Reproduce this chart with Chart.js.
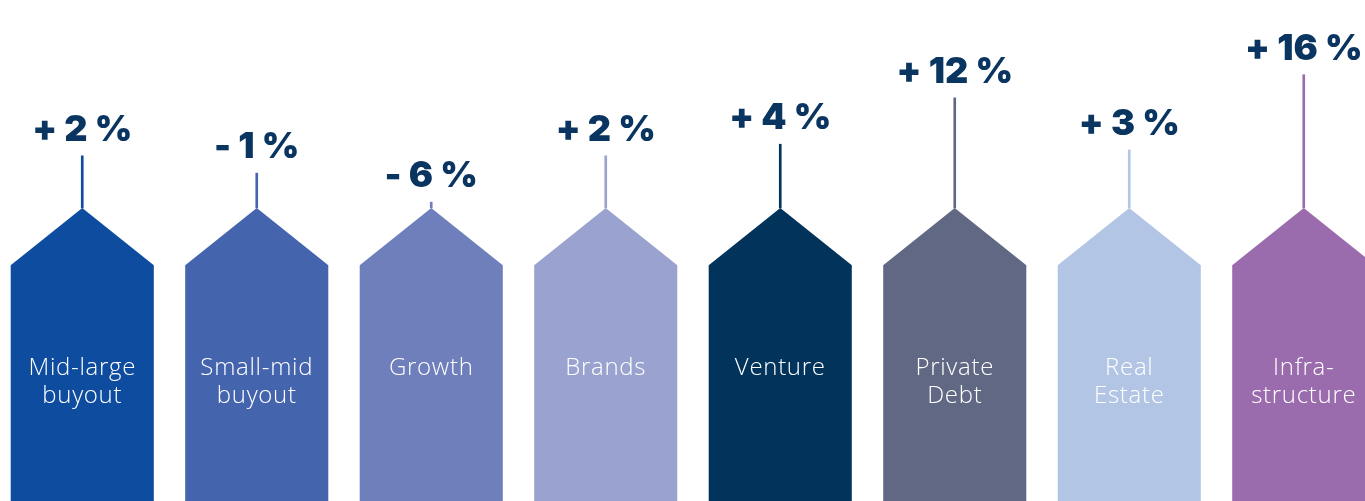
<!DOCTYPE html>
<html lang="en">
<head>
    <meta charset="UTF-8">
    <title>Change by strategy</title>
    <style>
        html, body {
            margin: 0;
            padding: 0;
            background: #ffffff;
            overflow: hidden;
        }
        #wrap {
            position: absolute;
            left: -5px;
            top: 0;
            width: 1396px;
            height: 501px;
        }
    </style>
    <script src="https://cdn.jsdelivr.net/npm/chart.js"></script>
</head>
<body>
    <div id="wrap"><canvas id="chart"></canvas></div>

    <script>
        // data
        const categories = [
            ['Mid-large', 'buyout'],
            ['Small-mid', 'buyout'],
            ['Growth'],
            ['Brands'],
            ['Venture'],
            ['Private', 'Debt'],
            ['Real', 'Estate'],
            ['Infra-', 'structure']
        ];
        const changes = [2, -1, -6, 2, 4, 12, 3, 16];
        const colors = ['#0e4c9f', '#4464ae', '#6f7fbc', '#9aa3cf', '#02335b', '#606883', '#b3c5e5', '#9a6cad'];

        // scale settings: roof peaks sit at stemBase, stems rise to the value
        const stemBase = -7;
        const axisMin = -57.6;
        const axisMax = 28.9;

        function formatChange(v) {
            return (v >= 0 ? '+ ' : '- ') + Math.abs(v) + ' %';
        }

        const housePlugin = {
            id: 'houses',
            beforeDatasetsDraw(chart) {
                const ctx = chart.ctx;
                ctx.save();
                chart.getDatasetMeta(0).data.forEach((bar, i) => {
                    const top = Math.min(bar.y, bar.base);
                    const bottom = Math.max(bar.y, bar.base);
                    const half = bar.width / 2;
                    const roof = half * 0.8;
                    ctx.fillStyle = colors[i];
                    ctx.beginPath();
                    ctx.moveTo(bar.x - half, bottom);
                    ctx.lineTo(bar.x - half, top + roof);
                    ctx.lineTo(bar.x, top);
                    ctx.lineTo(bar.x + half, top + roof);
                    ctx.lineTo(bar.x + half, bottom);
                    ctx.closePath();
                    ctx.fill();

                    // category name inside the house
                    ctx.fillStyle = '#ffffff';
                    ctx.font = '300 24px "Open Sans"';
                    ctx.letterSpacing = '0.7px';
                    ctx.textAlign = 'center';
                    ctx.textBaseline = 'alphabetic';
                    categories[i].forEach((line, k) => {
                        ctx.fillText(line, bar.x, top + 167 + k * 28);
                    });
                });
                ctx.restore();
            },
            afterDatasetsDraw(chart) {
                const ctx = chart.ctx;
                ctx.save();
                ctx.fillStyle = '#0b3561';
                ctx.font = '900 36px Inter';
                ctx.textAlign = 'center';
                ctx.textBaseline = 'alphabetic';
                chart.getDatasetMeta(1).data.forEach((stem, i) => {
                    const top = Math.min(stem.y, stem.base);
                    ctx.fillText(formatChange(changes[i]), stem.x, top - 15);
                });
                ctx.restore();
            }
        };

        new Chart(document.getElementById('chart'), {
            type: 'bar',
            data: {
                labels: categories,
                datasets: [
                    {
                        label: 'House',
                        data: categories.map(() => [axisMin, stemBase]),
                        backgroundColor: 'rgba(0,0,0,0)',
                        barPercentage: 0.82,
                        categoryPercentage: 1
                    },
                    {
                        label: 'Change',
                        data: changes.map(v => [stemBase, v]),
                        backgroundColor: colors,
                        barThickness: 2
                    }
                ]
            },
            options: {
                responsive: true,
                maintainAspectRatio: false,
                animation: false,
                layout: { padding: 0 },
                datasets: { bar: { grouped: false } },
                plugins: {
                    legend: { display: false },
                    tooltip: { enabled: false }
                },
                scales: {
                    x: { display: false },
                    y: { display: false, min: axisMin, max: axisMax }
                }
            },
            plugins: [housePlugin]
        });
    </script>
</body>
</html>
